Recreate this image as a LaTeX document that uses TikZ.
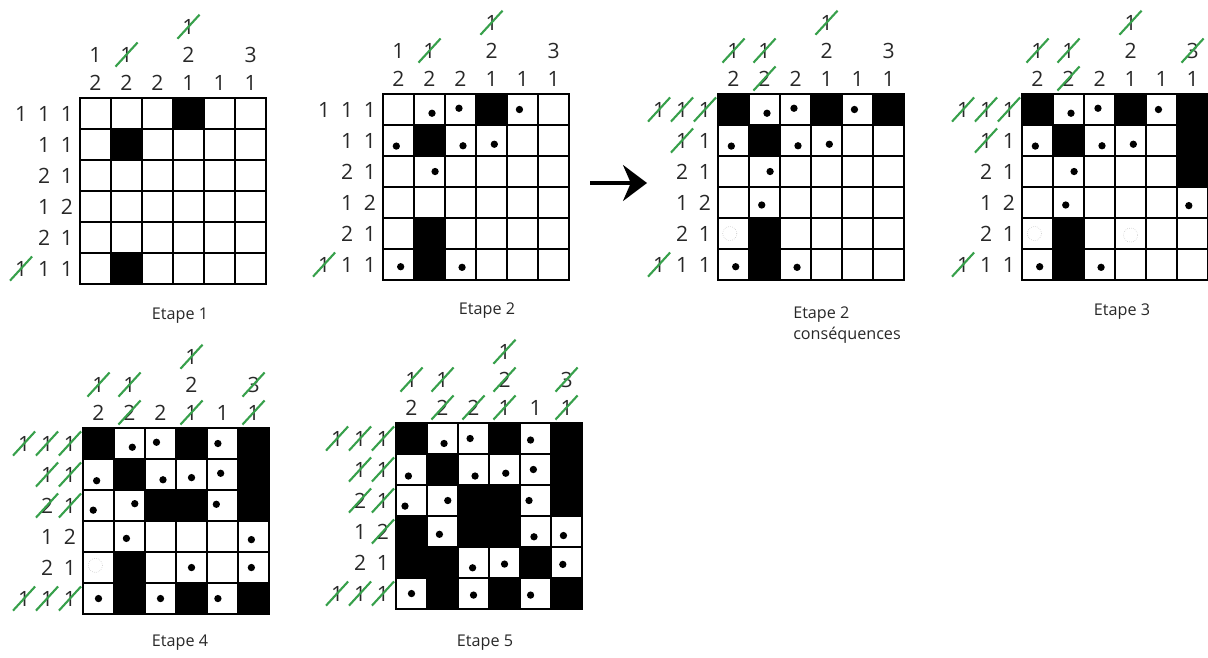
\documentclass[tikz,border=0pt]{standalone}
\usepackage{fontspec}
\setmainfont{Open Sans}
\usetikzlibrary{arrows.meta,shapes.misc}
\definecolor{cluegray}{RGB}{40,40,40}
\definecolor{strikegreen}{RGB}{55,160,75}
\tikzset{
    >=Stealth,
    board/.style={shift={#1}, x=0.775cm, y=-0.775cm},
    cell line/.style={line width=1pt},
    frame/.style={line width=1.4pt},
    clue/.style={font=\fontsize{15}{18}\selectfont, text=cluegray, inner sep=0pt, minimum width=5mm, minimum height=5.5mm},
    done/.style={clue, strike out, draw=strikegreen, line width=1.5pt},
    caption/.style={font=\fontsize{11.5}{15}\selectfont, text=cluegray, align=left},
    hint/.style={draw=black!25, densely dotted, line width=0.4pt},
    bigarrow/.style={line width=2.2pt, -{Stealth[length=6mm, width=9mm]}}
}
% one board = 6x6 cells, y going down
\newcommand{\blackcells}[1]{\foreach \cx/\ry in {#1} \fill (\cx-1,\ry-1) rectangle (\cx,\ry);}
\newcommand{\gridlines}{%
  \foreach \i in {1,...,5} {
    \draw[cell line] (\i,0) -- (\i,6);
    \draw[cell line] (0,\i) -- (6,\i);
  }
  \draw[frame] (0,0) rectangle (6,6);}
\newcommand{\dotmarks}[1]{\foreach \cx/\ry/\dx/\dy in {#1} \fill (\cx-0.5+\dx,\ry-0.5+\dy) circle (2.6pt);}
\newcommand{\hintmarks}[1]{\foreach \cx/\ry/\dx/\dy in {#1} \draw[hint] (\cx-0.5+\dx,\ry-0.5+\dy) circle (5pt);}
\newcommand{\colclues}[2]{\foreach \cx/\lv/\dg/\st in {#2} \node[\st] (#1-c\cx-\lv) at (\cx-0.5,0.4-0.9*\lv) {\dg};}
\newcommand{\rowclues}[2]{\foreach \ry/\lv/\dg/\st in {#2} \node[\st] (#1-r\ry-\lv) at (0.32-0.74*\lv,\ry-0.5) {\dg};}

\begin{document}
\begin{tikzpicture}[x=0.025cm, y=-0.025cm]
    \useasboundingbox (0,0) rectangle (1208,657);

    % Etape 1
    \begin{scope}[board={(80,98)}]
        \blackcells{4/1, 2/2, 2/6}
        \gridlines
        \colclues{b1}{1/1/2/clue, 1/2/1/clue, 2/1/2/clue, 2/2/1/done, 3/1/2/clue, 4/1/1/clue, 4/2/2/clue, 4/3/1/done, 5/1/1/clue, 6/1/1/clue, 6/2/3/clue}
        \rowclues{b1}{1/1/1/clue, 1/2/1/clue, 1/3/1/clue, 2/1/1/clue, 2/2/1/clue, 3/1/1/clue, 3/2/2/clue, 4/1/2/clue, 4/2/1/clue, 5/1/1/clue, 5/2/2/clue, 6/1/1/clue, 6/2/1/clue, 6/3/1/done}
    \end{scope}

    % Etape 2
    \begin{scope}[board={(383,94)}]
        \blackcells{4/1, 2/2, 2/5, 2/6}
        \gridlines
        \dotmarks{2/1/0.08/0.12, 3/1/-0.05/-0.04, 5/1/-0.1/0, 1/2/-0.07/0.18, 3/2/0.08/0.17, 4/2/0.09/0.12, 2/3/0.18/0, 1/6/0.07/0.07, 3/6/0.05/0.09}
        \colclues{b2}{1/1/2/clue, 1/2/1/clue, 2/1/2/clue, 2/2/1/done, 3/1/2/clue, 4/1/1/clue, 4/2/2/clue, 4/3/1/done, 5/1/1/clue, 6/1/1/clue, 6/2/3/clue}
        \rowclues{b2}{1/1/1/clue, 1/2/1/clue, 1/3/1/clue, 2/1/1/clue, 2/2/1/clue, 3/1/1/clue, 3/2/2/clue, 4/1/2/clue, 4/2/1/clue, 5/1/1/clue, 5/2/2/clue, 6/1/1/clue, 6/2/1/clue, 6/3/1/done}
    \end{scope}

    \coordinate (arrstart) at (590,183);
    \coordinate (arrend) at (647,183);
    \draw[bigarrow] (arrstart) -- (arrend);

    % Etape 2, consequences
    \begin{scope}[board={(718,94)}]
        \blackcells{1/1, 4/1, 6/1, 2/2, 2/5, 2/6}
        \gridlines
        \dotmarks{2/1/0.08/0.12, 3/1/-0.05/-0.04, 5/1/-0.1/0, 1/2/-0.07/0.18, 3/2/0.08/0.17, 4/2/0.09/0.12, 2/3/0.18/0, 2/4/-0.09/0.08, 1/6/0.07/0.07, 3/6/0.05/0.09}
        \hintmarks{1/5/-0.12/0}
        \colclues{b3}{1/1/2/clue, 1/2/1/done, 2/1/2/done, 2/2/1/done, 3/1/2/clue, 4/1/1/clue, 4/2/2/clue, 4/3/1/done, 5/1/1/clue, 6/1/1/clue, 6/2/3/clue}
        \rowclues{b3}{1/1/1/done, 1/2/1/done, 1/3/1/done, 2/1/1/clue, 2/2/1/done, 3/1/1/clue, 3/2/2/clue, 4/1/2/clue, 4/2/1/clue, 5/1/1/clue, 5/2/2/clue, 6/1/1/clue, 6/2/1/clue, 6/3/1/done}
    \end{scope}

    % Etape 3
    \begin{scope}[board={(1022,94)}]
        \blackcells{1/1, 4/1, 6/1, 2/2, 6/2, 6/3, 2/5, 2/6}
        \gridlines
        \dotmarks{2/1/0.08/0.12, 3/1/-0.05/-0.04, 5/1/-0.1/0, 1/2/-0.07/0.18, 3/2/0.08/0.17, 4/2/0.09/0.12, 2/3/0.18/0, 2/4/-0.09/0.08, 6/4/-0.12/0.1, 1/6/0.07/0.07, 3/6/0.05/0.09}
        \hintmarks{1/5/-0.1/0, 4/5/0/0.05}
        \colclues{b4}{1/1/2/clue, 1/2/1/done, 2/1/2/done, 2/2/1/done, 3/1/2/clue, 4/1/1/clue, 4/2/2/clue, 4/3/1/done, 5/1/1/clue, 6/1/1/clue, 6/2/3/done}
        \rowclues{b4}{1/1/1/done, 1/2/1/done, 1/3/1/done, 2/1/1/clue, 2/2/1/done, 3/1/1/clue, 3/2/2/clue, 4/1/2/clue, 4/2/1/clue, 5/1/1/clue, 5/2/2/clue, 6/1/1/clue, 6/2/1/clue, 6/3/1/done}
    \end{scope}

    % Etape 4
    \begin{scope}[board={(83,428)}]
        \blackcells{1/1, 4/1, 6/1, 2/2, 6/2, 3/3, 4/3, 6/3, 2/5, 2/6, 4/6, 6/6}
        \gridlines
        \dotmarks{2/1/0.09/0.12, 3/1/-0.13/-0.04, 5/1/-0.15/0, 1/2/-0.06/0.2, 3/2/0.08/0.17, 4/2/0/0.1, 5/2/-0.06/-0.04, 1/3/-0.17/0.15, 2/3/0.17/-0.06, 5/3/-0.2/-0.04, 2/4/-0.1/0.06, 6/4/-0.07/0.1, 4/5/0/0, 6/5/-0.07/0, 1/6/0/0, 3/6/0/0, 5/6/-0.15/0}
        \hintmarks{1/5/-0.1/-0.07}
        \colclues{b5}{1/1/2/clue, 1/2/1/done, 2/1/2/done, 2/2/1/done, 3/1/2/clue, 4/1/1/done, 4/2/2/clue, 4/3/1/done, 5/1/1/clue, 6/1/1/done, 6/2/3/done}
        \rowclues{b5}{1/1/1/done, 1/2/1/done, 1/3/1/done, 2/1/1/done, 2/2/1/done, 3/1/1/done, 3/2/2/done, 4/1/2/clue, 4/2/1/clue, 5/1/1/clue, 5/2/2/clue, 6/1/1/done, 6/2/1/done, 6/3/1/done}
    \end{scope}

    % Etape 5
    \begin{scope}[board={(396,423)}]
        \blackcells{1/1, 4/1, 6/1, 2/2, 6/2, 3/3, 4/3, 6/3, 1/4, 3/4, 4/4, 1/5, 2/5, 5/5, 2/6, 4/6, 6/6}
        \gridlines
        \dotmarks{2/1/0.05/0.16, 3/1/-0.11/0, 5/1/-0.16/0.05, 1/2/-0.1/0.21, 3/2/0.05/0.21, 4/2/0.04/0.12, 5/2/-0.07/0, 1/3/-0.21/0.18, 2/3/0.17/0, 5/3/-0.21/0, 2/4/-0.1/0.09, 5/4/-0.05/0.17, 6/4/-0.1/0.13, 3/5/-0.03/0.17, 4/5/0/0.05, 6/5/-0.12/0.06, 1/6/0/0, 3/6/0/0.05, 5/6/-0.16/0.05}
        \colclues{b6}{1/1/2/clue, 1/2/1/done, 2/1/2/done, 2/2/1/done, 3/1/2/done, 4/1/1/done, 4/2/2/done, 4/3/1/done, 5/1/1/clue, 6/1/1/done, 6/2/3/done}
        \rowclues{b6}{1/1/1/done, 1/2/1/done, 1/3/1/done, 2/1/1/done, 2/2/1/done, 3/1/1/done, 3/2/2/done, 4/1/2/done, 4/2/1/clue, 5/1/1/clue, 5/2/2/clue, 6/1/1/done, 6/2/1/done, 6/3/1/done}
    \end{scope}

    % captions
    \node[caption] (cap1) at (180,316) {Etape 1};
    \node[caption] (cap2) at (487,311) {Etape 2};
    \node[caption] (cap3) at (847,325) {Etape 2\\conséquences};
    \node[caption] (cap4) at (1122,312) {Etape 3};
    \node[caption] (cap5) at (180,643) {Etape 4};
    \node[caption] (cap6) at (485,643) {Etape 5};
\end{tikzpicture}
\end{document}
